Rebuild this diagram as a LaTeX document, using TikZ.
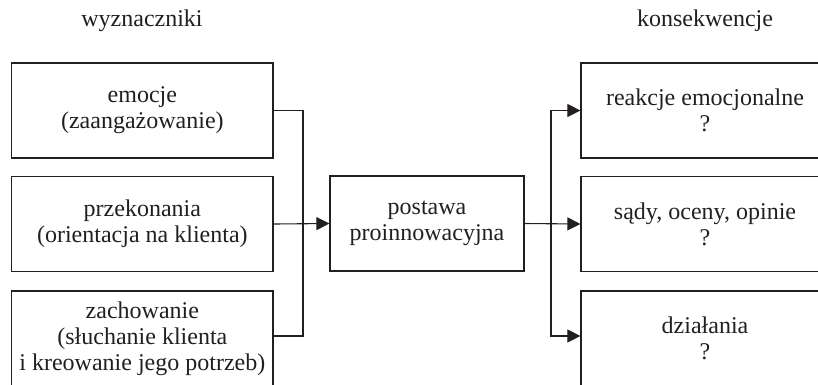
\documentclass[tikz,border=0pt]{standalone}
\usepackage{fontspec}
\setmainfont{Liberation Serif}
\usetikzlibrary{arrows.meta}
\definecolor{ink}{HTML}{231F20}
\begin{document}
\begin{tikzpicture}[x=1pt,y=-1pt,
  every node/.style={text=ink,font=\fontsize{24}{26}\selectfont,inner sep=0pt},
  box/.style={draw=ink,line width=1.2pt,align=center,minimum height=95pt},
  leftbox/.style={box,minimum width=261.3pt},
  rightbox/.style={box,minimum width=248pt},
  link/.style={draw=ink,line width=1.1pt},
  tip/.style={link,-{Triangle[length=13pt,width=13pt]}}]
\useasboundingbox (0,0) rectangle (818,384);
\clip (0,0) rectangle (818,384);

% column headings
\node[anchor=base] (hl) at (142,26) {wyznaczniki};
\node[anchor=base] (hr) at (705,26) {konsekwencje};

% determinants
\node[leftbox] (b1) at (142.35,110.5) {emocje\\(zaangażowanie)};
\node[leftbox] (b2) at (142.35,224) {przekonania\\(orientacja na klienta)};
\node[leftbox] (b3) at (142.35,338.5) {zachowanie\\(słuchanie klienta\\i kreowanie jego potrzeb)};

% central attitude
\node[box,minimum width=194pt] (mid) at (427,223.5) {postawa\\proinnowacyjna};

% consequences
\node[rightbox] (r1) at (705,110.5) {reakcje emocjonalne\\?};
\node[rightbox] (r2) at (705,224) {sądy, oceny, opinie\\?};
\node[rightbox] (r3) at (705,338.5) {działania\\?};

% connectors
\coordinate (busL) at (303,223.5);
\coordinate (busR) at (551,223.5);
\draw[link] (b1.east) -| (busL);
\draw[link] ([yshift=2.5pt]b3.east) -| (busL);
\draw[tip] (b2.east) -- (mid.west);
\draw[tip] (mid.east) -- (r2.west);
\draw[tip] (busR) |- (r1.west);
\draw[tip] (busR) |- ([yshift=2.5pt]r3.west);
\end{tikzpicture}
\end{document}
